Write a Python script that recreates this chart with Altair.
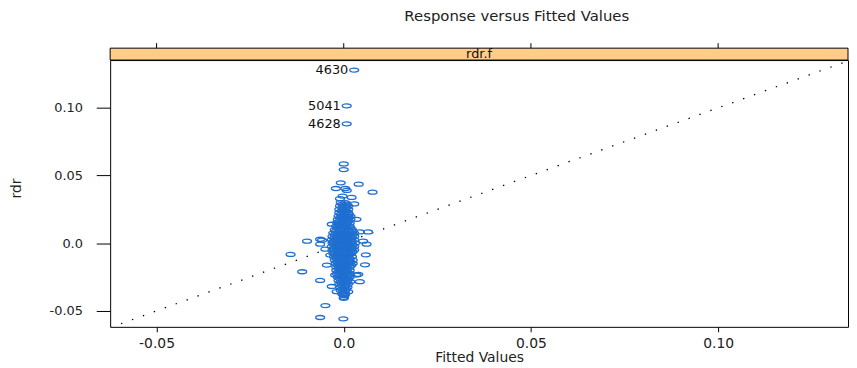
import altair as alt
import pandas as pd

# ---------------- data ----------------
title_text = "Response versus Fitted Values"
strip_text = "rdr.f"
x_title = "Fitted Values"
y_title = "rdr"

tick_values = [-0.05, 0.0, 0.05, 0.10]
tick_labels = ["-0.05", "0.0", "0.05", "0.10"]

x_domain = [-0.0624, 0.1347]
y_domain = [-0.0618, 0.1353]

# dense core of the cloud: (rdr, [fitted values on that row])
core_rows = [
    (0.0300, [-0.0008, 0.0004]),
    (0.0288, [-0.0004, 0.0008]),
    (0.0275, [-0.0010, 0.0002, 0.0012]),
    (0.0263, [-0.0004, 0.0008]),
    (0.0250, [-0.0012, 0.0000, 0.0012]),
    (0.0238, [-0.0006, 0.0006]),
    (0.0225, [-0.0012, 0.0000, 0.0012]),
    (0.0213, [-0.0008, 0.0004, 0.0014]),
    (0.0200, [-0.0014, -0.0002, 0.0010, 0.0018]),
    (0.0188, [-0.0010, 0.0002, 0.0014]),
    (0.0175, [-0.0016, -0.0004, 0.0008, 0.0018]),
    (0.0163, [-0.0012, 0.0000, 0.0012]),
    (0.0150, [-0.0018, -0.0006, 0.0006, 0.0016]),
    (0.0138, [-0.0014, -0.0002, 0.0010]),
    (0.0125, [-0.0020, -0.0008, 0.0004, 0.0016]),
    (0.0113, [-0.0018, -0.0006, 0.0006, 0.0018]),
    (0.0100, [-0.0024, -0.0012, 0.0000, 0.0012, 0.0022]),
    (0.0088, [-0.0022, -0.0010, 0.0002, 0.0014, 0.0024]),
    (0.0075, [-0.0028, -0.0016, -0.0004, 0.0008, 0.0020, 0.0028]),
    (0.0063, [-0.0024, -0.0012, 0.0000, 0.0012, 0.0024]),
    (0.0050, [-0.0030, -0.0018, -0.0006, 0.0006, 0.0018, 0.0028]),
    (0.0038, [-0.0026, -0.0014, -0.0002, 0.0010, 0.0022]),
    (0.0025, [-0.0032, -0.0020, -0.0008, 0.0004, 0.0016, 0.0028]),
    (0.0013, [-0.0026, -0.0014, -0.0002, 0.0010, 0.0022]),
    (0.0000, [-0.0030, -0.0018, -0.0006, 0.0006, 0.0018, 0.0030]),
    (-0.0013, [-0.0026, -0.0014, -0.0002, 0.0010, 0.0024]),
    (-0.0025, [-0.0032, -0.0020, -0.0008, 0.0004, 0.0016, 0.0028]),
    (-0.0038, [-0.0026, -0.0014, -0.0002, 0.0010, 0.0022]),
    (-0.0050, [-0.0030, -0.0018, -0.0006, 0.0006, 0.0018, 0.0028]),
    (-0.0063, [-0.0024, -0.0012, 0.0000, 0.0012, 0.0024]),
    (-0.0075, [-0.0028, -0.0016, -0.0004, 0.0008, 0.0020]),
    (-0.0088, [-0.0022, -0.0010, 0.0002, 0.0014]),
    (-0.0100, [-0.0026, -0.0014, -0.0002, 0.0010, 0.0022]),
    (-0.0113, [-0.0020, -0.0008, 0.0004, 0.0016]),
    (-0.0125, [-0.0024, -0.0012, 0.0000, 0.0012, 0.0024]),
    (-0.0138, [-0.0018, -0.0006, 0.0006, 0.0018]),
    (-0.0150, [-0.0022, -0.0010, 0.0002, 0.0014, 0.0024]),
    (-0.0163, [-0.0016, -0.0004, 0.0008, 0.0020]),
    (-0.0175, [-0.0020, -0.0008, 0.0004, 0.0016]),
    (-0.0188, [-0.0014, -0.0002, 0.0010]),
    (-0.0200, [-0.0020, -0.0008, 0.0004, 0.0016]),
    (-0.0213, [-0.0014, -0.0002, 0.0010]),
    (-0.0225, [-0.0018, -0.0006, 0.0006, 0.0016]),
    (-0.0238, [-0.0012, 0.0000, 0.0012]),
    (-0.0250, [-0.0016, -0.0004, 0.0008, 0.0016]),
    (-0.0263, [-0.0010, 0.0002, 0.0012]),
    (-0.0275, [-0.0014, -0.0002, 0.0010]),
    (-0.0288, [-0.0008, 0.0004]),
    (-0.0300, [-0.0012, 0.0000, 0.0012]),
    (-0.0313, [-0.0006, 0.0006]),
    (-0.0325, [-0.0010, 0.0002, 0.0010]),
    (-0.0338, [-0.0004, 0.0006]),
    (-0.0350, [-0.0008, 0.0004]),
    (-0.0363, [-0.0002]),
    (-0.0375, [-0.0004, 0.0004]),
    (-0.0388, [0.0002]),
    (-0.0400, [0.0000]),
]

# scattered points around the core
sparse_fit = [0.0000, 0.0000, -0.0008, 0.0040, 0.0077, -0.0021, 0.0004, 0.0008,
              -0.0003, 0.0021, -0.0010, 0.0028, 0.0034, -0.0032, 0.0043, 0.0065,
              -0.0058, -0.0029, 0.0052, -0.0098, -0.0063, -0.0063, -0.0049, 0.0061,
              0.0059, -0.0036, -0.0142, 0.0057, -0.0045, -0.0111, 0.0039, 0.0034,
              -0.0023, -0.0063, 0.0043, 0.0017, -0.0032, -0.0019, 0.0012, 0.0000,
              0.0000, -0.0049, -0.0063, -0.0001]
sparse_rdr = [0.0586, 0.0544, 0.0446, 0.0436, 0.0377, 0.0404, 0.0404, 0.0390,
              0.0348, 0.0338, 0.0329, 0.0290, 0.0176, 0.0140, 0.0083, 0.0083,
              0.0022, 0.0010, 0.0015, 0.0015, 0.0029, -0.0007, -0.0044, -0.0007,
              -0.0086, -0.0088, -0.0083, -0.0160, -0.0162, -0.0211, -0.0230, -0.0235,
              -0.0235, -0.0275, -0.0284, -0.0284, -0.0320, -0.0358, -0.0358, -0.0382,
              -0.0407, -0.0461, -0.0549, -0.0559]

# labelled outliers
out_fit = [0.0028, 0.0008, 0.0008]
out_rdr = [0.1279, 0.1015, 0.0882]
out_ids = ["4630", "5041", "4628"]

# ---------------- tables ----------------
core_fit, core_rdr = [], []
for r, xs_row in core_rows:
    for xv in xs_row:
        core_fit.append(xv)
        core_rdr.append(r)

pts = pd.DataFrame({
    "fit": core_fit + sparse_fit + out_fit,
    "rdr": core_rdr + sparse_rdr + out_rdr,
})
labels = pd.DataFrame({"fit": out_fit, "rdr": out_rdr, "id": out_ids})
diag = pd.DataFrame({"fit": x_domain, "rdr": x_domain})
ticks = pd.DataFrame({"fit": tick_values})
one = pd.DataFrame({"t": [title_text], "s": [strip_text]})

# ---------------- styling ----------------
W, H = 744, 269
FONT = "DejaVu Sans"
BLUE = "#1f6fd1"
STRIP = "#ffcc8a"
ELLIPSE = "M-1,0A1,0.45,0,1,0,1,0A1,0.45,0,1,0,-1,0Z"

label_expr = " : ".join(
    f"datum.value == {v} ? '{l}'" for v, l in zip(tick_values, tick_labels)
) + " : ''"

xs = alt.Scale(domain=x_domain, nice=False, zero=False)
ys = alt.Scale(domain=y_domain, nice=False, zero=False)

x_axis = alt.Axis(values=tick_values, labelExpr=label_expr, title=x_title,
                  grid=False, domain=False, tickSize=5, tickColor="black",
                  labelFont=FONT, labelFontSize=14, labelColor="#222",
                  labelPadding=5, titleFont=FONT, titleFontSize=14,
                  titleFontWeight="normal", titleColor="#222", titleY=24)
y_axis = alt.Axis(values=tick_values, labelExpr=label_expr, title=y_title,
                  grid=False, domain=False, tickSize=14, tickColor="black",
                  labelFont=FONT, labelFontSize=13, labelColor="#222",
                  labelPadding=14, titleFont=FONT, titleFontSize=14,
                  titleFontWeight="normal", titleColor="#222",
                  titleX=-90, titleY=129, titleBaseline="alphabetic")

X = alt.X("fit:Q", scale=xs, axis=x_axis)
Y = alt.Y("rdr:Q", scale=ys, axis=y_axis)

diag_layer = alt.Chart(diag).mark_line(
    color="black", strokeWidth=1.3, strokeDash=[1.4, 10.3], clip=True
).encode(x=X, y=Y)

points_layer = alt.Chart(pts).mark_point(
    shape=ELLIPSE, size=81, filled=False, color=BLUE, strokeWidth=1.3, opacity=1
).encode(x=X, y=Y)

label_layer = alt.Chart(labels).mark_text(
    align="right", baseline="middle", dx=-6, font=FONT, fontSize=13, color="#111"
).encode(x=X, y=Y, text="id:N")

strip_layer = alt.Chart(one).mark_rect(
    fill=STRIP, stroke="black", strokeWidth=1
).encode(x=alt.value(0), x2=alt.value(W), y=alt.value(-12), y2=alt.value(0))

strip_text_layer = alt.Chart(one).mark_text(
    align="center", baseline="alphabetic", font=FONT, fontSize=13, color="#111"
).encode(x=alt.value(W / 2), y=alt.value(-2), text="s:N")

top_ticks = alt.Chart(ticks).mark_rule(color="black", strokeWidth=1).encode(
    x=alt.X("fit:Q", scale=xs, axis=x_axis), y=alt.value(-17), y2=alt.value(-12)
)

title_layer = alt.Chart(one).mark_text(
    align="center", baseline="middle", font=FONT, fontSize=15, color="#222"
).encode(x=alt.value(410), y=alt.value(-44), text="t:N")

chart = alt.layer(
    diag_layer, points_layer, label_layer, strip_layer, strip_text_layer,
    top_ticks, title_layer
).properties(
    width=W, height=H,
    autosize=alt.AutoSizeParams(type="none"),
    padding={"left": 103, "top": 51, "right": 1, "bottom": 40},
    background="white",
).configure_view(stroke="black", strokeWidth=1)

chart.save("out.html", embed_options={"renderer": "svg", "actions": False})
